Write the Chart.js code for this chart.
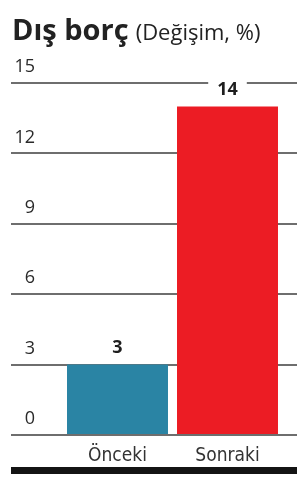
<!DOCTYPE html>
<html>
<head>
<meta charset="utf-8">
<script src="https://cdn.jsdelivr.net/npm/chart.js@4"></script>
<style>
  html, body { margin: 0; padding: 0; background: #fff; overflow: hidden; }
  #wrap { width: 297px; height: 477px; position: relative; }
</style>
</head>
<body>
<div id="wrap"><canvas id="debt-chart"></canvas></div>
<script>
const categories = ['Önceki', 'Sonraki'];
const values = [3, 14];
const barColors = ['#2a84a4', '#ec1c24'];
const yTicks = [0, 3, 6, 9, 12, 15];

const title = 'Dış borç';
const subtitle = '(Değişim, %)';

const gridColor = '#6e6e6e';

// grid lines run on past the plot to the right edge
const gridTail = {
  id: 'gridTail',
  beforeDatasetsDraw(chart) {
    const ctx = chart.ctx;
    const y = chart.scales.y;
    ctx.save();
    ctx.strokeStyle = gridColor;
    ctx.lineWidth = 2;
    y.ticks.forEach(t => {
      const py = Math.round(y.getPixelForValue(t.value));
      ctx.beginPath();
      ctx.moveTo(chart.chartArea.right - 1, py);
      ctx.lineTo(chart.width, py);
      ctx.stroke();
    });
    ctx.restore();
  }
};

// title, value labels and bottom rule
const extras = {
  id: 'extras',
  afterDraw(chart) {
    const ctx = chart.ctx;
    ctx.save();
    ctx.fillStyle = '#222';
    ctx.textBaseline = 'alphabetic';
    ctx.textAlign = 'left';
    ctx.font = 'bold 29px "Open Sans"';
    ctx.fillText(title, 12, 40);
    const w = ctx.measureText(title).width;
    ctx.font = '22px "Open Sans"';
    ctx.fillText(subtitle, 12 + w + 7, 40);

    const meta = chart.getDatasetMeta(0);
    ctx.font = 'bold 18px "Open Sans"';
    ctx.textAlign = 'center';
    ctx.textBaseline = 'middle';
    meta.data.forEach((bar, i) => {
      const txt = String(values[i]);
      const tw = ctx.measureText(txt).width;
      const y = bar.y - 17;
      ctx.fillStyle = '#fff';
      ctx.fillRect(bar.x - tw / 2 - 9, y - 8, tw + 18, 16);
      ctx.fillStyle = '#1e1e1e';
      ctx.fillText(txt, bar.x, y);
    });

    ctx.fillStyle = '#141414';
    ctx.fillRect(11, 467, 286, 7);
    ctx.restore();
  }
};

new Chart(document.getElementById('debt-chart'), {
  type: 'bar',
  data: {
    labels: categories,
    datasets: [{
      data: values,
      backgroundColor: barColors,
      borderWidth: 0,
      barPercentage: 0.918,
      categoryPercentage: 1
    }]
  },
  options: {
    responsive: true,
    maintainAspectRatio: false,
    animation: false,
    layout: {
      padding: { top: 83, left: 11, right: 14.5, bottom: 10 }
    },
    plugins: {
      legend: { display: false },
      tooltip: { enabled: false }
    },
    scales: {
      x: {
        grid: { display: false },
        border: { display: false },
        ticks: {
          padding: 2,
          color: '#333',
          font: { family: '"DejaVu Sans Condensed"', size: 19 }
        },
        afterFit(s) { s.height = 32; }
      },
      y: {
        position: 'left',
        min: 0,
        max: 15,
        afterBuildTicks(s) { s.ticks = yTicks.map(v => ({ value: v })); },
        ticks: {
          crossAlign: 'near',
          padding: -24,
          labelOffset: -16,
          color: '#2a2a2a',
          font: { family: '"Open Sans"', size: 18 }
        },
        grid: { color: gridColor, lineWidth: 2, tickLength: 51.5, drawTicks: true },
        border: { display: false },
        afterFit(s) { s.width = 51.5; }
      }
    }
  },
  plugins: [gridTail, extras]
});
</script>
</body>
</html>
